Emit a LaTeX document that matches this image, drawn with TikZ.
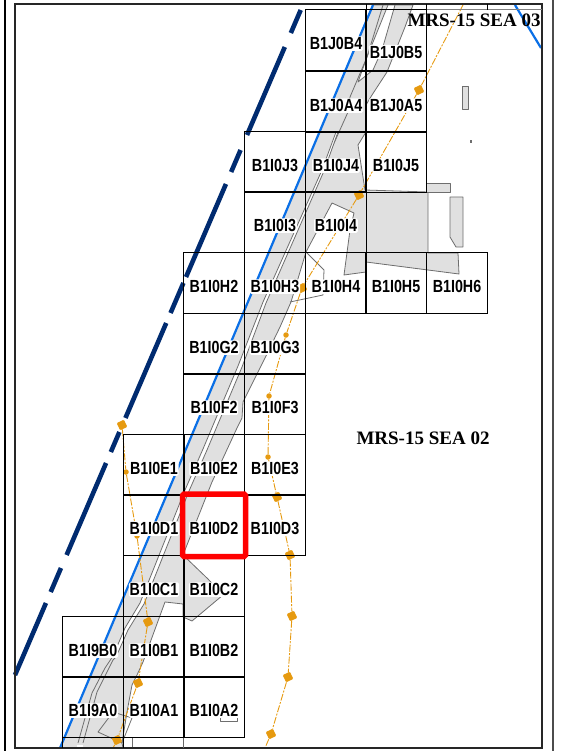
\documentclass[tikz,border=0pt]{standalone}
\usepackage{fontspec}
\setmainfont{Liberation Sans}
\newfontfamily\zonefont{Liberation Serif}
\definecolor{landgrey}{HTML}{E0E0E0}
\definecolor{coastgrey}{HTML}{6E6E6E}
\definecolor{navyline}{HTML}{002B70}
\definecolor{blueline}{HTML}{0A6FE6}
\definecolor{pipeorange}{HTML}{E69A10}
\tikzset{
  land/.style={fill=landgrey, draw=coastgrey, line width=0.8pt, line join=round},
  coast/.style={draw=coastgrey, line width=0.8pt, line join=round},
  cell/.style={draw=black, line width=1.2pt, minimum width=60.8pt, minimum height=60.6pt, inner sep=0pt},
  celltext/.style={fill=white, rounded corners=1.5pt, inner sep=0.8pt, font=\bfseries\fontsize{14.6}{15}\selectfont, xscale=0.98, yscale=1.2},
  zonetext/.style={inner sep=0pt, font=\zonefont\bfseries\fontsize{19}{20}\selectfont},
  pipeline/.style={draw=pipeorange, line width=0.9pt, dash pattern=on 7pt off 1.5pt on 2pt off 1.5pt},
  bigmark/.style={fill=pipeorange, rectangle, rotate=25, rounded corners=1pt, minimum size=8pt, inner sep=0pt},
  smallmark/.style={fill=pipeorange, circle, minimum size=5.5pt, inner sep=0pt}
}
\begin{document}
\begin{tikzpicture}[x=1pt,y=-1pt]
  \useasboundingbox (0,0) rectangle (560,751);

  % Land
  \draw[land] (373,5) -- (413,5) -- (405,27) -- (387,72) -- (372,95) -- (366,105) -- (366,132) -- (358,145) -- (365,190)
    -- (428,192) -- (428,253) -- (458,253) -- (459,274) -- (366,262) -- (366,272) -- (344,275) -- (350,230) -- (354,213)
    -- (332,203) -- (306,252) -- (291,302) -- (280,327) -- (265,358) -- (243,402) -- (242,418) -- (237,428) -- (212,482)
    -- (183,555) -- (208,579) -- (223,595) -- (192,621) -- (183,617) -- (183,604) -- (165,602) -- (143,662) -- (137,675)
    -- (132,685) -- (127,712) -- (122,743) -- (123,748) -- (60,748) -- cycle;
  \draw[land] (462,86) rectangle (468,109);
  \draw[land] (426,183) rectangle (450,192);
  \draw[land] (450,197) -- (463,197) -- (463,247) -- (456,247) -- (450,237) -- cycle;
  \fill[coastgrey] (470,140) rectangle (472,143);

  % Channel
  \draw[coast, fill=white] (388,5) -- (395,5) -- (382,50) -- (373,70) -- (358,82) -- (367,57) -- cycle;
  \draw[coast] (383,5) -- (367,57) -- (350,97) -- (348,112) -- (322,170);
  \draw[coast, fill=white] (336,132) -- (322,170) -- (263,302) -- (238,366) -- (203,449) -- (185,490) -- (140,603)
    -- (125,628) -- (113,656) -- (116,657) -- (128,630) -- (144,604) -- (189,491) -- (207,450) -- (242,367) -- (266,303)
    -- (324,171) -- (338,132);
  \draw[coast] (113,656) -- (105,668) -- (92,693) -- (78,743);
  \draw[coast] (116,657) -- (113,660) -- (97,692) -- (83,743);
  \fill[white] (77,745) rectangle (83,748);

  % Umrisse
  \draw[coast] (306,252) -- (324,270) -- (323,295) -- (290,302);
  \draw[coast] (113,712) -- (132,718) -- (122,743) -- (98,732) -- cycle;
  \draw[coast] (132,737) -- (132,748);
  \draw[coast] (220,718) -- (220,721) -- (237,721) -- (237,718);

  % Blaue Linien
  \draw[blueline, line width=2.2pt] (373,5) -- (60,748);
  \draw[blueline, line width=2.2pt] (515,5) -- (541,48);

  % Gestrichelte Linie
  \def\navyx{300.7}
  \def\navyk{0.4296}
  \foreach \ya/\yb in {10/33,47/135,150/172,184/277,283/313,323/418,432/452,463/555,568/592,603/675}
    \draw[navyline, line width=4.6pt] ({\navyx-(\ya-10)*\navyk},\ya) -- ({\navyx-(\yb-10)*\navyk},\yb);

  % Leitungen
  \coordinate (pipeA) at (463,5);
  \coordinate (pipeB) at (265,748);
  \coordinate (pipeC) at (113,748);
  \foreach \pname/\px/\py in {a1/419/90,a2/359/195,a3/302/288,a7/277/497,a8/290/555,a9/292/616,a10/288/677,a11/271/734,b1/122/425,b4/148/622,b5/138/683,b6/117/740}
    \node[bigmark] (\pname) at (\px,\py) {};
  \foreach \pname/\px/\py in {a4/286/335,a5/269/396,a6/268/457,b2/126/472,b3/137/536}
    \node[smallmark] (\pname) at (\px,\py) {};
  \draw[pipeline] (pipeA) -- (a1) -- (a2) -- (a3) -- (a4) -- (a5) -- (a6) -- (a7) -- (a8) -- (a9) -- (a10) -- (a11) -- (pipeB);
  \draw[pipeline] (b1) -- (b2) -- (b3) -- (b4) -- (b5) -- (b6) -- (pipeC);

  % Rahmen
  \draw[black, line width=2pt] (5,0) -- (5,751);
  \draw[black!85, line width=2.2pt] (15,748) -- (15,4) -- (542,4) -- (542,748) -- cycle;
  \draw[black!70, line width=1.6pt] (553,0) -- (553,751);
  \draw[black!50, line width=1pt] (426,10) -- (542,10);
  \foreach \fx in {366,426,487}
    \draw[black, line width=1pt] (\fx,4) -- (\fx,10);
  \foreach \fx in {62,123}
    \draw[black, line width=1pt] (\fx,737) -- (\fx,748);
  \draw[black!60, line width=1pt] (183.7,737) -- (183.7,748);

  % Blattschnitt
  \foreach \cname/\cx/\cy in {
      B1J0B4/336/40,B1J0B5/396/40,B1J0A4/336/102,B1J0A5/396/102,
      B1I0J3/275/162,B1I0J4/336/162,B1I0J5/396/162,
      B1I0I3/275/222,B1I0I4/336/222,
      B1I0H2/214/283,B1I0H3/275/283,B1I0H4/336/283,B1I0H5/396/283,B1I0H6/457/283,
      B1I0G2/214/344,B1I0G3/275/344,B1I0F2/214/404,B1I0F3/275/404,
      B1I0E1/154/465,B1I0E2/214/465,B1I0E3/275/465,
      B1I0D1/154/525,B1I0D2/214/525,B1I0D3/275/525,
      B1I0C1/154/586,B1I0C2/214/586,
      B1I9B0/93/647,B1I0B1/154/647,B1I0B2/214/647,
      B1I9A0/93/707,B1I0A1/154/707,B1I0A2/214/707}
    \node[cell] (\cname) at (\cx,\cy) {};

  % Beschriftung
  \foreach \cname in {
      B1J0B4,B1J0A4,B1J0A5,B1I0J3,B1I0J4,B1I0J5,B1I0I3,B1I0I4,
      B1I0H2,B1I0H3,B1I0H4,B1I0H5,B1I0H6,B1I0G2,B1I0G3,B1I0F2,B1I0F3,
      B1I0E1,B1I0E2,B1I0E3,B1I0D1,B1I0D2,B1I0D3,B1I0C1,B1I0C2,
      B1I9B0,B1I0B1,B1I0B2,B1I9A0,B1I0A1,B1I0A2}
    \node[celltext, yshift=-3pt] (txt\cname) at (\cname) {\cname};
  \node[celltext, yshift=-10pt] (txtB1J0B5) at (B1J0B5) {B1J0B5};

  % Markierung
  \draw[red, line width=5.5pt, rounded corners=1.5pt] (182.5,494) rectangle (245.5,556.5);

  % Zonen
  \node[zonetext] (zone03) at (474,20) {MRS-15 SEA 03};
  \node[zonetext] (zone02) at (423,438) {MRS-15 SEA 02};
\end{tikzpicture}
\end{document}
